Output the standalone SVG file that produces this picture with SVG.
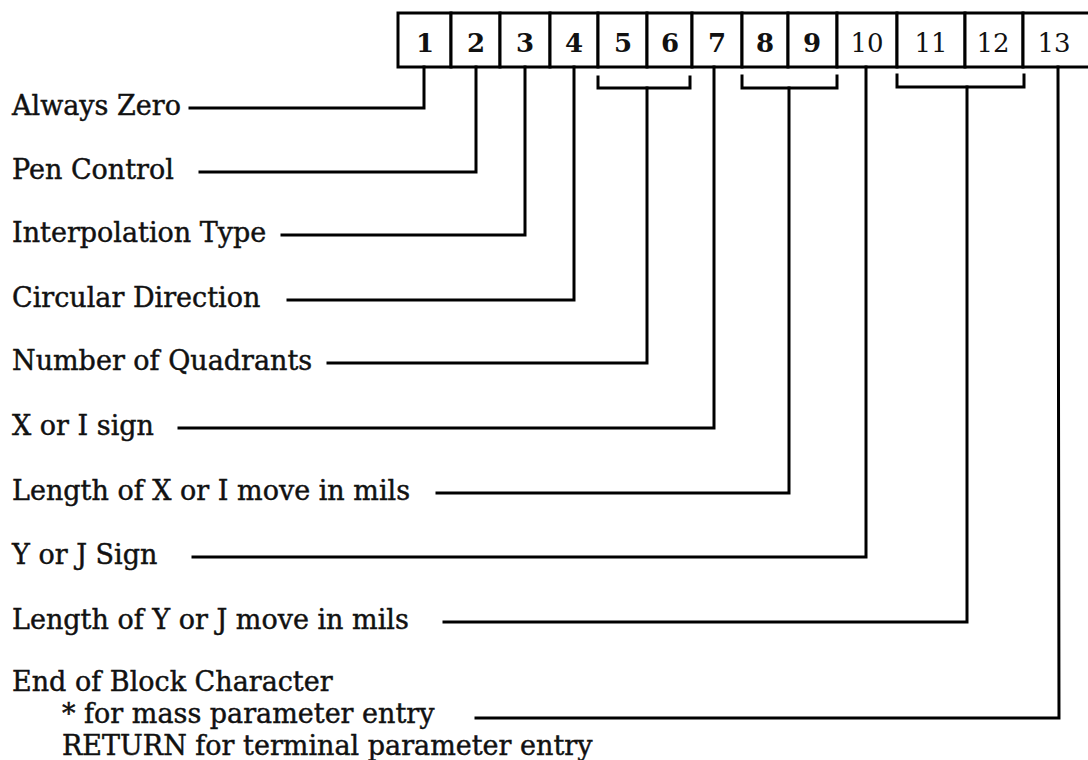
<svg xmlns="http://www.w3.org/2000/svg" width="1088" height="760" viewBox="0 0 1088 760">
  <style>
    .cell { fill: #fff; stroke: #000; stroke-width: 3; }
    .num { font-family: "DejaVu Serif", "Liberation Serif", serif; font-size: 26px; fill: #111; text-anchor: middle; }
    .b { font-weight: bold; }
    .lbl { font-family: "DejaVu Serif", "Liberation Serif", serif; font-size: 27px; fill: #111; stroke: #111; stroke-width: 0.45px; }
    .wire { fill: none; stroke: #000; stroke-width: 3; stroke-linejoin: miter; stroke-linecap: square; }
  </style>
  <rect width="1088" height="760" fill="#fff"/>

  <!-- register word: 13 character positions -->
  <g id="register">
    <g id="cell-1"><rect class="cell" x="398" y="13" width="53" height="54"/><text class="num b" x="425" y="52">1</text></g>
    <g id="cell-2"><rect class="cell" x="451" y="13" width="49" height="54"/><text class="num b" x="476" y="52">2</text></g>
    <g id="cell-3"><rect class="cell" x="500" y="13" width="50" height="54"/><text class="num b" x="525" y="52">3</text></g>
    <g id="cell-4"><rect class="cell" x="550" y="13" width="48" height="54"/><text class="num b" x="574" y="52">4</text></g>
    <g id="cell-5"><rect class="cell" x="598" y="13" width="49" height="54"/><text class="num b" x="623" y="52">5</text></g>
    <g id="cell-6"><rect class="cell" x="647" y="13" width="45" height="54"/><text class="num b" x="670" y="52">6</text></g>
    <g id="cell-7"><rect class="cell" x="692" y="13" width="50" height="54"/><text class="num b" x="717" y="52">7</text></g>
    <g id="cell-8"><rect class="cell" x="742" y="13" width="46" height="54"/><text class="num b" x="765" y="52">8</text></g>
    <g id="cell-9"><rect class="cell" x="788" y="13" width="49" height="54"/><text class="num b" x="812" y="52">9</text></g>
    <g id="cell-10"><rect class="cell" x="837" y="13" width="60" height="54"/><text class="num" x="867" y="52">10</text></g>
    <g id="cell-11"><rect class="cell" x="897" y="13" width="68" height="54"/><text class="num" x="931" y="52">11</text></g>
    <g id="cell-12"><rect class="cell" x="965" y="13" width="58" height="54"/><text class="num" x="993" y="52">12</text></g>
    <g id="cell-13"><rect class="cell" x="1023" y="13" width="70" height="54"/><text class="num" x="1054" y="52">13</text></g>
  </g>

  <!-- field descriptions -->
  <g id="label-always-zero"><text class="lbl" x="12" y="115">Always Zero</text></g>
  <g id="label-pen-control"><text class="lbl" x="12" y="179">Pen Control</text></g>
  <g id="label-interpolation"><text class="lbl" x="12" y="242">Interpolation Type</text></g>
  <g id="label-circular"><text class="lbl" x="12" y="307">Circular Direction</text></g>
  <g id="label-quadrants"><text class="lbl" x="12" y="370">Number of Quadrants</text></g>
  <g id="label-x-sign"><text class="lbl" x="12" y="435">X or I sign</text></g>
  <g id="label-x-length"><text class="lbl" x="12" y="500">Length of X or I move in mils</text></g>
  <g id="label-y-sign"><text class="lbl" x="12" y="564">Y or J Sign</text></g>
  <g id="label-y-length"><text class="lbl" x="12" y="629">Length of Y or J move in mils</text></g>
  <g id="label-end-block">
    <text class="lbl" x="12" y="691">End of Block Character</text>
    <text class="lbl" x="62" y="723">* for mass parameter entry</text>
    <text class="lbl" x="62" y="755">RETURN for terminal parameter entry</text>
  </g>

  <!-- leader lines from each field to its description -->
  <g id="connectors">
    <polyline class="wire" points="424,67 424,108 190,108"/>
    <polyline class="wire" points="476,67 476,172 200,172"/>
    <polyline class="wire" points="525,67 525,235 282,235"/>
    <polyline class="wire" points="574,67 574,300 288,300"/>
    <!-- bracket over positions 5-6 -->
    <polyline class="wire" points="598,77 598,88 690,88 690,77"/>
    <polyline class="wire" points="647,88 647,363 328,363"/>
    <polyline class="wire" points="714,67 714,428 179,428"/>
    <!-- bracket over positions 8-9 -->
    <polyline class="wire" points="742,76 742,88 837,88 837,76"/>
    <polyline class="wire" points="789,88 789,493 437,493"/>
    <polyline class="wire" points="866,67 866,557 193,557"/>
    <!-- bracket over positions 11-12 -->
    <polyline class="wire" points="897,75 897,87 1024,87 1024,75"/>
    <polyline class="wire" points="967,87 967,622 444,622"/>
    <polyline class="wire" points="1058,67 1059,718 476,718"/>
  </g>
</svg>
